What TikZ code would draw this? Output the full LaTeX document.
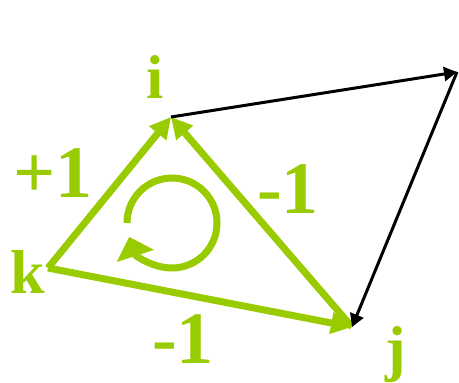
\documentclass[tikz,border=0pt]{standalone}
\usepackage{fontspec}
\setmainfont{Liberation Serif}
\usetikzlibrary{arrows.meta,calc}
\definecolor{edgec}{HTML}{99CC00}
\definecolor{inkc}{HTML}{000000}
\tikzset{
  ge/.style  ={draw=edgec,line width=7pt,-{Triangle[length=21pt,width=21pt]}},
  be/.style  ={draw=inkc,line width=3pt,-{Triangle[length=13pt,width=14pt]}},
  loopa/.style={draw=edgec,line width=7pt,-{Triangle[length=20pt,width=38pt]}},
  vlab/.style={text=edgec,font=\fontsize{62}{62}\selectfont\bfseries,anchor=base,inner sep=0pt},
  wlab/.style={text=edgec,font=\fontsize{74}{74}\selectfont\bfseries,anchor=base,inner sep=0pt},
}

\begin{document}
\begin{tikzpicture}[x=1pt,y=-1pt]
\useasboundingbox (0,0) rectangle (459,383);

% ---------- vertices -----------------------------------------------------
\coordinate (i) at (171,117);
\coordinate (j) at (352,327);
\coordinate (k) at (48,268);
\coordinate (r) at (457,72);
\coordinate (c) at (172,223);

% ---------- oriented triangle --------------------------------------------
\draw[ge](k)--(i); \draw[ge](j)--(i); \draw[ge](k)--(j);
\draw[be](i)--(r); \draw[be](r)--(j);

% ---------- orientation loop ---------------------------------------------
\draw[loopa]($(c)+(180:45)$) arc[start angle=180,end angle=522,radius=45];

% ---------- labels -------------------------------------------------------
\node[vlab] (li) at (155,98)  {i};
\node[vlab] (lk) at (28,293)  {k};
\node[vlab] (lj) at (396,369) {j};
\node[wlab] (lki) at (53,197)  {+1};
\node[wlab] (lji) at (288,213) {-1};
\node[wlab] (lkj) at (183,363) {-1};
\end{tikzpicture}
\end{document}
